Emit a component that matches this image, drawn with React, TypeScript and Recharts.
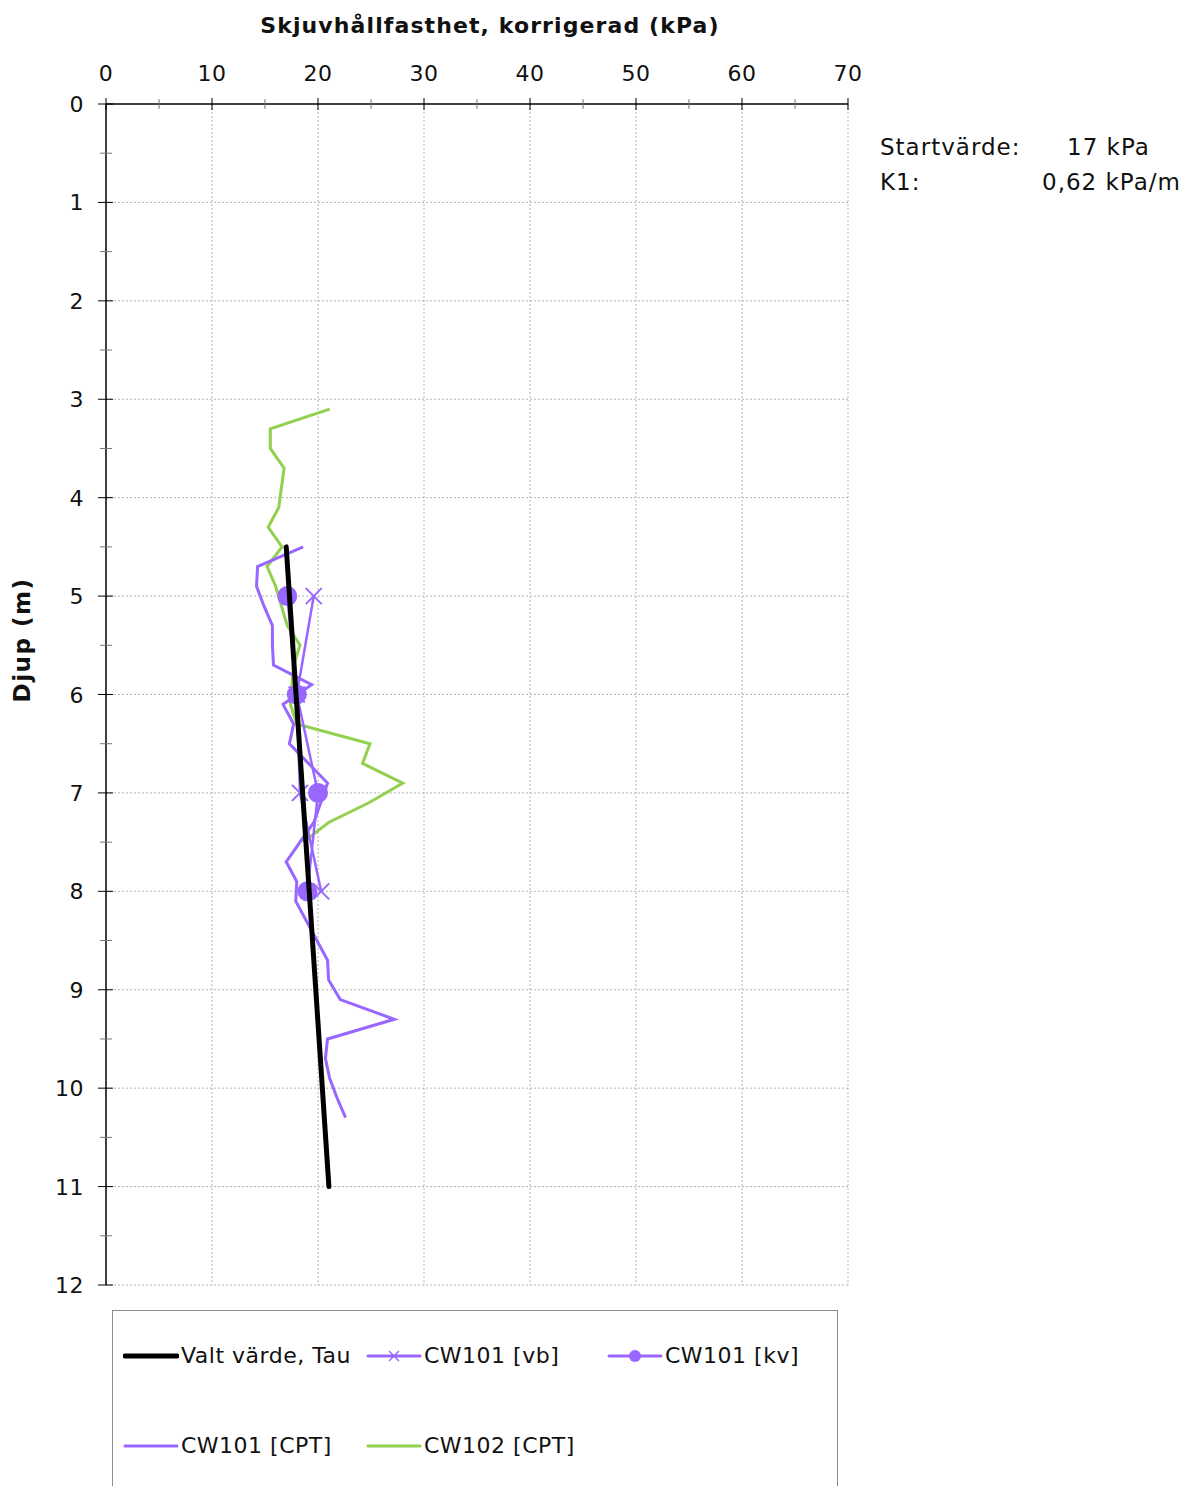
import React from 'react'
import {
  ScatterChart,
  Scatter,
  XAxis,
  YAxis,
  ReferenceLine,
} from 'recharts'

const FONT = '"DejaVu Sans", Verdana, sans-serif'
const PURPLE = '#9966ff'
const GREEN = '#92d050'

// x = skjuvhållfasthet (kPa), d = djup (m)
const valtX = [17, 21.03]
const valtD = [4.5, 11]

const vbX = [19.6, 18.0, 18.3, 20.3]
const vbD = [5, 6, 7, 8]

const kvX = [17.1, 18.0, 20.0, 19.0]
const kvD = [5, 6, 7, 8]

const cptX = [18.6, 14.3, 14.2, 14.9, 15.7, 15.7, 15.8, 19.4, 16.7, 17.7, 17.3, 20.9, 19.6, 17.0, 18.0, 17.9, 20.9, 21.0, 22.1, 27.2, 20.9, 20.7, 21.1, 21.8, 22.6]
const cptD = [4.5, 4.7, 4.9, 5.1, 5.3, 5.5, 5.7, 5.9, 6.1, 6.3, 6.5, 6.9, 7.3, 7.7, 7.9, 8.1, 8.7, 8.9, 9.1, 9.3, 9.5, 9.7, 9.9, 10.1, 10.3]

const cw102X = [21.1, 15.5, 15.5, 16.8, 16.3, 15.3, 16.6, 15.2, 16.0, 17.1, 18.3, 17.7, 17.4, 18.0, 24.9, 24.2, 28.0, 24.8, 21.0, 18.6]
const cw102D = [3.1, 3.3, 3.5, 3.7, 4.1, 4.3, 4.5, 4.7, 4.9, 5.3, 5.5, 5.7, 6.1, 6.3, 6.5, 6.7, 6.9, 7.1, 7.3, 7.5]

const xTicks = [0, 5, 10, 15, 20, 25, 30, 35, 40, 45, 50, 55, 60, 65, 70]
const yTicks = [0, 0.5, 1, 1.5, 2, 2.5, 3, 3.5, 4, 4.5, 5, 5.5, 6, 6.5, 7, 7.5, 8, 8.5, 9, 9.5, 10, 10.5, 11, 11.5, 12]
const xGrid = [10, 20, 30, 40, 50, 60, 70]
const yGrid = [1, 2, 3, 4, 5, 6, 7, 8, 9, 10, 11, 12]

const toPoints = (xs: number[], ds: number[]) => xs.map((x, i) => ({ x, d: ds[i] }))

const NoDot = () => <g />

const CircleDot = (props: any) => <circle cx={props.cx} cy={props.cy} r={10} fill={PURPLE} />

const CrossDot = (props: any) => {
  const { cx, cy } = props
  const s = 8
  return (
    <g stroke={PURPLE} strokeWidth={2}>
      <line x1={cx - s} y1={cy - s} x2={cx + s} y2={cy + s} />
      <line x1={cx - s} y1={cy + s} x2={cx + s} y2={cy - s} />
    </g>
  )
}

const XTick = ({ x, y, payload }: any) => {
  const major = payload.value % 10 === 0
  const h = major ? 6 : 5
  return (
    <g>
      <line x1={x} x2={x} y1={y - h} y2={y + h} stroke={major ? '#000' : '#777'} strokeWidth={1} />
      {major && (
        <text x={x} y={y - 23} textAnchor="middle" fontFamily={FONT} fontSize={22} letterSpacing={0.5} fill="#111">
          {payload.value}
        </text>
      )}
    </g>
  )
}

const YTick = ({ x, y, payload }: any) => {
  const major = Number.isInteger(payload.value)
  return (
    <g>
      <line x1={major ? x - 8 : x - 6} x2={major ? x + 7 : x + 6} y1={y} y2={y} stroke={major ? '#000' : '#777'} strokeWidth={1} />
      {major && (
        <text x={x - 22} y={y + 8} textAnchor="end" fontFamily={FONT} fontSize={22} letterSpacing={0.5} fill="#111">
          {payload.value}
        </text>
      )}
    </g>
  )
}

const legendItems = [
  { name: 'Valt värde, Tau', color: '#000', width: 5, marker: '' },
  { name: 'CW101 [vb]', color: PURPLE, width: 3, marker: 'x' },
  { name: 'CW101 [kv]', color: PURPLE, width: 3, marker: 'o' },
  { name: 'CW101 [CPT]', color: PURPLE, width: 3, marker: '' },
  { name: 'CW102 [CPT]', color: GREEN, width: 3, marker: '' },
]

const LegendSymbol = ({ color, width, marker }: any) => (
  <svg width={56} height={20} style={{ display: 'block' }}>
    <line x1={2} x2={54} y1={10} y2={10} stroke={color} strokeWidth={width} strokeLinecap="round" />
    {marker === 'o' && <circle cx={28} cy={10} r={6} fill={color} />}
    {marker === 'x' && (
      <g stroke={color} strokeWidth={1.5}>
        <line x1={23} y1={5} x2={33} y2={15} />
        <line x1={23} y1={15} x2={33} y2={5} />
      </g>
    )}
  </svg>
)

export default function App() {
  const leftCols = [10, 253, 494]
  return (
    <div style={{ position: 'absolute', left: 0, top: 0, width: 1188, height: 1486, overflow: 'hidden', background: '#fff', fontFamily: FONT }}>
      <ScatterChart width={1188} height={1486} margin={{ top: 44, left: 26, right: 340, bottom: 201 }}>
        <XAxis
          type="number"
          dataKey="x"
          orientation="top"
          domain={[0, 70]}
          ticks={xTicks}
          interval={0}
          height={60}
          tickSize={0}
          tickMargin={0}
          tick={<XTick />}
          axisLine={{ stroke: '#000', strokeWidth: 1.5 }}
          tickLine={false}
        />
        <YAxis
          type="number"
          dataKey="d"
          reversed
          domain={[0, 12]}
          ticks={yTicks}
          interval={0}
          width={80}
          tickSize={0}
          tickMargin={0}
          tick={<YTick />}
          axisLine={{ stroke: '#000', strokeWidth: 1.5 }}
          tickLine={false}
        />
        {xGrid.map((v) => (
          <ReferenceLine key={`gx${v}`} x={v} stroke="#b4b4b4" strokeDasharray="2 2" />
        ))}
        {yGrid.map((v) => (
          <ReferenceLine key={`gy${v}`} y={v} stroke="#b4b4b4" strokeDasharray="2 2" />
        ))}
        <Scatter
          name="CW102 [CPT]"
          data={toPoints(cw102X, cw102D)}
          line={{ stroke: GREEN, strokeWidth: 3 }}
          shape={<NoDot />}
          isAnimationActive={false}
        />
        <Scatter
          name="CW101 [CPT]"
          data={toPoints(cptX, cptD)}
          line={{ stroke: PURPLE, strokeWidth: 3 }}
          shape={<NoDot />}
          isAnimationActive={false}
        />
        <Scatter
          name="CW101 [vb]"
          data={toPoints(vbX, vbD)}
          line={{ stroke: PURPLE, strokeWidth: 2.5 }}
          shape={<CrossDot />}
          isAnimationActive={false}
        />
        <Scatter
          name="CW101 [kv]"
          data={toPoints(kvX, kvD)}
          line={{ stroke: PURPLE, strokeWidth: 2.5 }}
          shape={<CircleDot />}
          isAnimationActive={false}
        />
        <Scatter
          name="Valt värde, Tau"
          data={toPoints(valtX, valtD)}
          line={{ stroke: '#000', strokeWidth: 5, strokeLinecap: 'round' }}
          shape={<NoDot />}
          isAnimationActive={false}
        />
      </ScatterChart>

      {/* axis titles */}
      <div style={{ position: 'absolute', left: 106, width: 742, top: 13, textAlign: 'center', fontWeight: 'bold', fontSize: 22, letterSpacing: 1.1, color: '#111', paddingLeft: 26, boxSizing: 'border-box' }}>
        Skjuvhållfasthet, korrigerad (kPa)
      </div>
      <div style={{ position: 'absolute', left: 22, top: 640, transform: 'translate(-50%, -50%) rotate(-90deg)', fontWeight: 'bold', fontSize: 23, letterSpacing: 1.5, color: '#111', whiteSpace: 'nowrap' }}>
        Djup (m)
      </div>

      {/* parameters */}
      <div style={{ position: 'absolute', left: 880, top: 130, fontSize: 23, letterSpacing: 1, color: '#111', lineHeight: '35px' }}>
        <div style={{ display: 'flex' }}>
          <span style={{ width: 187 }}>Startvärde:</span>
          <span>17 kPa</span>
        </div>
        <div style={{ display: 'flex' }}>
          <span style={{ width: 162 }}>K1:</span>
          <span>0,62 kPa/m</span>
        </div>
      </div>

      {/* legend */}
      <div style={{ position: 'absolute', left: 112, top: 1310, width: 726, height: 200, border: '1px solid #8c8c8c', boxSizing: 'border-box' }}>
        {legendItems.map((it, i) => {
          const row = i < 3 ? 0 : 1
          const col = i < 3 ? i : i - 3
          return (
            <div
              key={it.name}
              style={{ position: 'absolute', left: leftCols[col], top: row === 0 ? 32 : 122, display: 'flex', alignItems: 'center', fontSize: 22, letterSpacing: 0.5, color: '#111' }}
            >
              <LegendSymbol color={it.color} width={it.width} marker={it.marker} />
              <span style={{ marginLeft: 2 }}>{it.name}</span>
            </div>
          )
        })}
      </div>
    </div>
  )
}
